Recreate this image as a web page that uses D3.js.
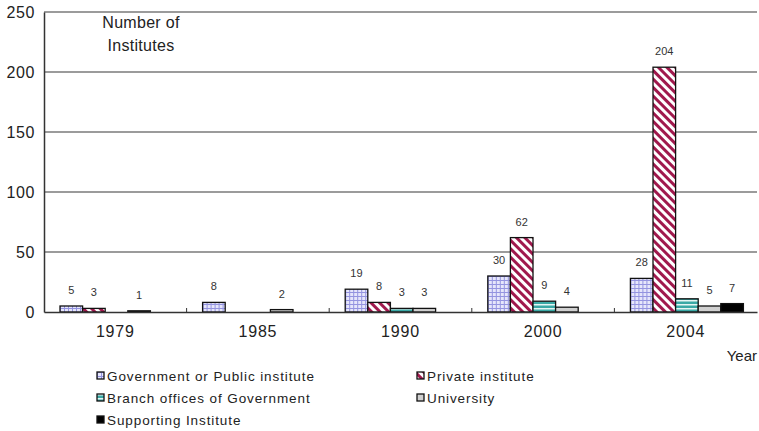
<!DOCTYPE html>
<html>
<head>
<meta charset="utf-8">
<script src="https://cdn.jsdelivr.net/npm/d3@7"></script>
<style>
  body { margin: 0; background: #fff; }
  svg { font-family: "Liberation Sans", Arial, sans-serif; }
</style>
</head>
<body>
<div id="chart"></div>
<script>
// Data________________________________________
const years = ["1979", "1985", "1990", "2000", "2004"];
const seriesNames = ["Government or Public institute", "Private institute",
  "Branch offices of Government", "University", "Supporting Institute"];
const govValues = [5, 8, 19, 30, 28];
const privateValues = [3, 0, 8, 62, 204];
const branchValues = [0, 0, 3, 9, 11];
const universityValues = [1, 2, 3, 4, 5];
const supportingValues = [0, 0, 0, 0, 7];
const yTicks = [0, 50, 100, 150, 200, 250];

const allValues = [govValues, privateValues, branchValues, universityValues, supportingValues];
const rows = years.map((yr, i) => ({
  year: yr,
  values: seriesNames.map((s, k) => ({ key: s, value: allValues[k][i] }))
}));

// Layout______________________________________
const width = 759, height = 431;
const padLeft = 44, padRight = 757, padTop = 12, padBottom = 312;

const svg = d3.select("#chart").append("svg")
  .attr("width", width)
  .attr("height", height);

// patterns
const defs = svg.append("defs");
const pGov = defs.append("pattern").attr("id", "pGov")
  .attr("width", 4).attr("height", 4).attr("patternUnits", "userSpaceOnUse");
pGov.append("rect").attr("width", 4).attr("height", 4).attr("fill", "#e6e6fb");
pGov.append("rect").attr("width", 4).attr("height", 1).attr("fill", "#9494e0");
pGov.append("rect").attr("width", 1).attr("height", 4).attr("fill", "#9494e0");

const pPriv = defs.append("pattern").attr("id", "pPriv")
  .attr("width", 6).attr("height", 6).attr("patternUnits", "userSpaceOnUse")
  .attr("patternTransform", "rotate(-45)");
pPriv.append("rect").attr("width", 6).attr("height", 6).attr("fill", "#fff");
pPriv.append("rect").attr("width", 3).attr("height", 6).attr("fill", "#a0194d");

const pBranch = defs.append("pattern").attr("id", "pBranch")
  .attr("width", 4).attr("height", 4).attr("patternUnits", "userSpaceOnUse");
pBranch.append("rect").attr("width", 4).attr("height", 4).attr("fill", "#3aa9a6");
pBranch.append("rect").attr("width", 4).attr("height", 1.5).attr("fill", "#e6f6f4");

const fills = ["url(#pGov)", "url(#pPriv)", "url(#pBranch)", "#d0d0d0", "#000"];
const color = d3.scaleOrdinal().domain(seriesNames).range(fills);

// Scales__________________________________
const x0 = d3.scaleBand().domain(years).range([padLeft, padRight]);
const x1 = d3.scaleBand().domain(seriesNames).range([16, 129]);
const y = d3.scaleLinear().domain([0, 250]).range([padBottom, padTop]);

// gridlines
svg.append("g")
  .selectAll("line")
  .data(yTicks.filter(d => d > 0))
  .enter()
  .append("line")
  .attr("x1", padLeft).attr("x2", padRight)
  .attr("y1", d => y(d)).attr("y2", d => y(d))
  .attr("stroke", "#7a7a7a")
  .attr("stroke-width", 1.5);

// y axis
const yAxis = d3.axisLeft(y).tickValues(yTicks).tickSize(0).tickPadding(9);
const gy = svg.append("g")
  .attr("transform", `translate(${padLeft},0)`)
  .call(yAxis);
gy.select(".domain").attr("stroke", "#333").attr("stroke-width", 1.5);
gy.selectAll("text").attr("font-size", 16).attr("letter-spacing", 0.6).attr("fill", "#222");

// bars
const groups = svg.append("g").selectAll("g")
  .data(rows)
  .enter()
  .append("g")
  .attr("transform", d => `translate(${x0(d.year)},0)`);

groups.selectAll("rect")
  .data(d => d.values.filter(v => v.value > 0))
  .enter()
  .append("rect")
  .attr("x", d => x1(d.key))
  .attr("y", d => y(d.value))
  .attr("width", x1.bandwidth())
  .attr("height", d => y(0) - y(d.value))
  .attr("fill", d => color(d.key))
  .attr("stroke", "#111")
  .attr("stroke-width", 1.3);

groups.selectAll("text")
  .data(d => d.values.filter(v => v.value > 0))
  .enter()
  .append("text")
  .attr("x", d => x1(d.key) + x1.bandwidth() / 2)
  .attr("y", d => y(d.value) - 12)
  .attr("text-anchor", "middle")
  .attr("font-size", 11)
  .attr("fill", "#333")
  .text(d => d.value);

// x axis
const xAxis = d3.axisBottom(x0).tickSize(0).tickPadding(14);
const gx = svg.append("g")
  .attr("transform", `translate(0,${padBottom})`)
  .call(xAxis);
gx.select(".domain").attr("stroke", "#333").attr("stroke-width", 1.5);
gx.selectAll("text").attr("font-size", 16).attr("letter-spacing", 0.8).attr("fill", "#222");

// small tick marks between categories
svg.append("g").selectAll("line")
  .data(years.slice(1))
  .enter()
  .append("line")
  .attr("x1", d => x0(d)).attr("x2", d => x0(d))
  .attr("y1", padBottom).attr("y2", padBottom - 4)
  .attr("stroke", "#333");

// titles
svg.append("text")
  .attr("x", 141).attr("y", 28)
  .attr("text-anchor", "middle")
  .attr("font-size", 16).attr("letter-spacing", 0.3).attr("fill", "#222")
  .text("Number of");
svg.append("text")
  .attr("x", 141).attr("y", 51)
  .attr("text-anchor", "middle")
  .attr("font-size", 16).attr("letter-spacing", 0.3).attr("fill", "#222")
  .text("Institutes");
svg.append("text")
  .attr("x", 757).attr("y", 361)
  .attr("text-anchor", "end")
  .attr("font-size", 15).attr("fill", "#222")
  .text("Year");

// Legend__________________________________
const legendPos = [[97, 376], [417, 376], [97, 398], [417, 398], [97, 420]];
const legend = svg.append("g").selectAll("g")
  .data(seriesNames)
  .enter()
  .append("g")
  .attr("transform", (d, i) => `translate(${legendPos[i][0]},${legendPos[i][1]})`);

legend.append("rect")
  .attr("x", 0).attr("y", -4)
  .attr("width", 7).attr("height", 7)
  .attr("fill", d => color(d))
  .attr("stroke", "#111")
  .attr("stroke-width", 1.3);

legend.append("text")
  .attr("x", 10).attr("y", 5)
  .attr("font-size", 13.5)
  .attr("letter-spacing", 0.9)
  .attr("fill", "#222")
  .text(d => d);
</script>
</body>
</html>
